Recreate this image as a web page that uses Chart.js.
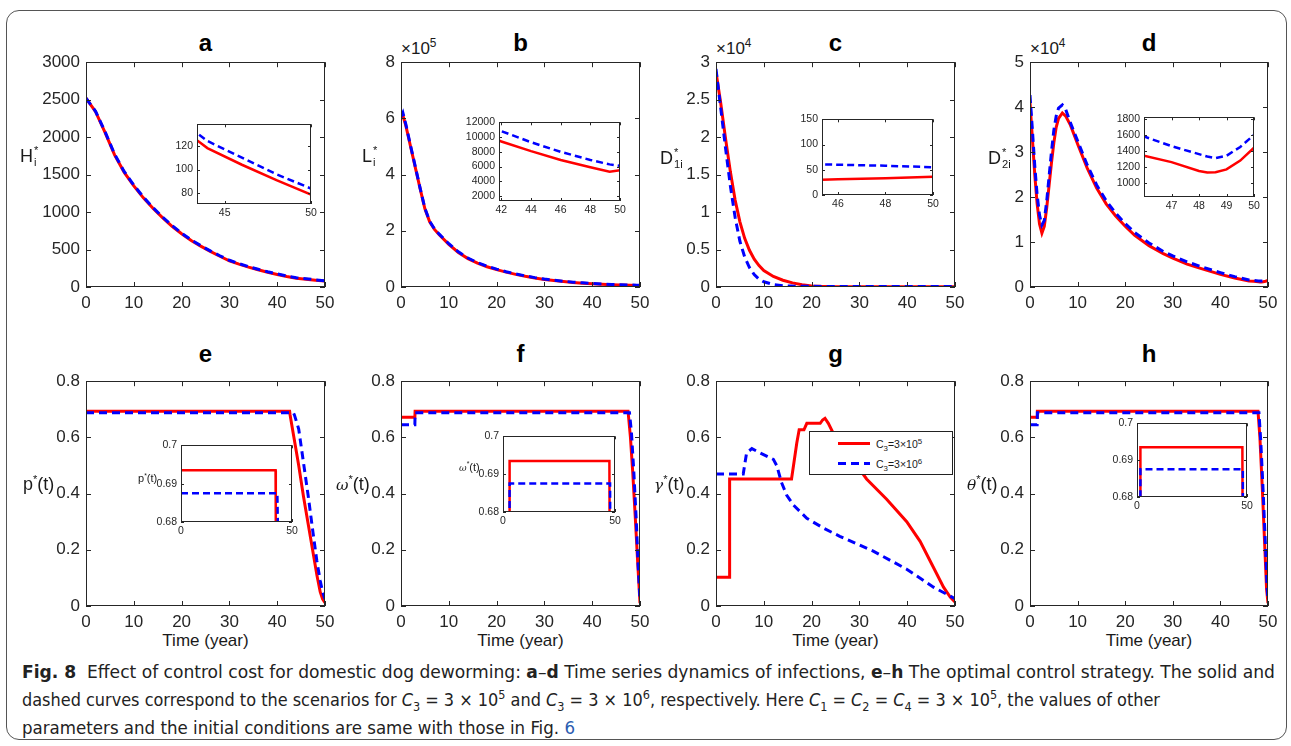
<!DOCTYPE html>
<html>
<head>
<meta charset="utf-8">
<script src="https://cdn.jsdelivr.net/npm/chart.js@4.4.1/dist/chart.umd.min.js"></script>
<style>
body { margin: 0; background: #fff; width: 1291px; height: 746px; position: relative; overflow: hidden; font-family: 'Liberation Sans', Arial, sans-serif; color: #1a1a1a; }
#frame { position: absolute; left: 6px; top: 10px; width: 1281px; height: 730px; border: 1px solid #555; border-radius: 13px; box-sizing: border-box; }
.box { position: absolute; }
.ttl { position: absolute; font-weight: bold; font-size: 24px; line-height: 24px; text-align: center; color: #000; }
.lab { position: absolute; font-size: 18px; line-height: 20px; transform: translateY(-50%); white-space: nowrap; color: #1a1a1a; z-index: 5; }
.lab i { font-family: 'DejaVu Serif', serif; font-size: 0.85em; }
.ss { display: inline-flex; flex-direction: column; font-size: 0.62em; line-height: 1.1em; vertical-align: 0.7em; margin-left: 1px; }
.lab sup { font-size: 0.62em; vertical-align: 0.6em; line-height: 0; }
.sm { font-size: 11px; line-height: 12px; }
.xt { position: absolute; font-size: 17px; line-height: 20px; text-align: center; }
.mult { position: absolute; font-size: 17px; line-height: 20px; white-space: nowrap; }
.mult sup { font-size: 0.7em; vertical-align: 0.55em; line-height: 0; }
#leg { position: absolute; left: 809px; top: 431px; width: 144px; height: 44px; border: 1px solid #222; background: #fff; box-sizing: border-box; z-index: 6; font-size: 10.5px; }
.lrow { position: absolute; left: 0; width: 100%; height: 14px; }
.ls { position: absolute; left: 28px; top: 5px; width: 32px; height: 3px; }
.lt { position: absolute; left: 66px; top: 0; line-height: 14px; white-space: nowrap; }
.lt sub, .lt sup { font-size: 0.75em; line-height: 0; }
.cap { position: absolute; left: 22px; font-family: 'Liberation Sans Narrow', 'DejaVu Sans Condensed', 'Liberation Sans', sans-serif; font-size: 18px; line-height: 28px; white-space: nowrap; color: #222; transform-origin: 0 50%; }
.cap sub, .cap sup { font-size: 0.7em; line-height: 0; }
</style>
</head>
<body>
<div id="frame"></div>

<script>
// ---------- data ----------
const xTicksMain = [0, 10, 20, 30, 40, 50];

// a: H_i*
const tH = [0, 2, 4, 6, 8, 10, 12, 14, 16, 18, 20, 22, 24, 26, 28, 30, 32, 34, 36, 38, 40, 42, 44, 46, 48, 50];
const hRed = [2520, 2340, 2060, 1760, 1530, 1350, 1190, 1050, 925, 810, 710, 620, 545, 475, 410, 350, 305, 265, 230, 196, 168, 140, 118, 104, 91, 79];
const hBlue = [2520, 2345, 2070, 1770, 1540, 1360, 1200, 1060, 935, 820, 718, 628, 552, 482, 417, 357, 311, 271, 236, 203, 175, 146, 124, 110, 96, 84];
const hTicks = [0, 500, 1000, 1500, 2000, 2500, 3000];

// b: L_i*
const tL = [0, 0.4, 1, 2, 3, 4, 5, 6, 7, 8, 10, 12, 14, 16, 18, 20, 22, 24, 26, 28, 30, 32, 34, 36, 38, 40, 42, 44, 46, 48, 49.3, 50];
const lRed = [600000, 610000, 575000, 500000, 425000, 350000, 278000, 232000, 205000, 186000, 152000, 123000, 101000, 85000, 72000, 62000, 53000, 45000, 38000, 32000, 27000, 23000, 19500, 16000, 13500, 11400, 9400, 8100, 6900, 5900, 5300, 5500];
const lBlue = [605000, 620000, 580000, 503000, 428000, 352000, 280000, 234000, 207000, 188000, 154000, 125000, 103000, 87000, 74000, 63500, 54500, 46500, 39500, 33300, 28200, 24000, 20500, 17300, 14700, 12600, 10800, 9300, 8000, 6900, 6300, 6100];
const lTicks = [0, 200000, 400000, 600000, 800000];

// c: D_1i*
const tD1 = [0, 1, 2, 3, 4, 5, 6, 7, 8, 9, 10, 12, 14, 16, 18, 20, 22, 25, 30, 35, 40, 45, 46, 48, 50];
const d1Red = [28700, 24500, 19800, 15400, 11600, 8700, 6500, 4900, 3700, 2850, 2200, 1400, 900, 550, 300, 150, 90, 50, 35, 31, 30, 30, 31, 33, 36];
const d1Blue = [29100, 23800, 18500, 13500, 9300, 6100, 4000, 2600, 1650, 1050, 700, 330, 180, 120, 100, 90, 80, 75, 70, 66, 63, 61, 60, 58, 55];
const d1Ticks = [0, 5000, 10000, 15000, 20000, 25000, 30000];

// d: D_2i*
const tD2 = [0, 0.5, 1, 1.5, 2, 2.5, 3, 3.5, 4, 4.5, 5, 5.5, 6, 6.8, 7.5, 8.5, 10, 12, 14, 16, 18, 20, 22, 25, 28, 30, 33, 36, 40, 43, 46, 47, 48, 48.3, 48.6, 49, 49.5, 50];
const d2Red = [41000, 33000, 25000, 18500, 14000, 12000, 13500, 17500, 22500, 27500, 32000, 35500, 37500, 38700, 38000, 36000, 31800, 26500, 22000, 18500, 15800, 13500, 11500, 9200, 7400, 6400, 5100, 4100, 2800, 2000, 1340, 1260, 1150, 1130, 1135, 1170, 1280, 1440];
const d2Blue = [42700, 35000, 27000, 20500, 16000, 13800, 14800, 19000, 24500, 30000, 34800, 38000, 39800, 40500, 39500, 36500, 32500, 27200, 22700, 19200, 16400, 14100, 12100, 9800, 7900, 6900, 5600, 4500, 3200, 2300, 1580, 1460, 1360, 1330, 1310, 1340, 1450, 1600];
const d2Ticks = [0, 10000, 20000, 30000, 40000, 50000];

// e: p*(t)
const tPRed = [0, 42.6, 42.7, 43.5, 44.5, 45.5, 46.5, 47.5, 48.3, 49, 49.5, 50];
const pRed = [0.6935, 0.6935, 0.68, 0.60, 0.50, 0.39, 0.29, 0.19, 0.11, 0.05, 0.025, 0.012];
const tPBlue = [0, 43.4, 43.6, 44.5, 45.5, 46.5, 47.5, 48.3, 49, 49.5, 50];
const pBlue = [0.6875, 0.6875, 0.68, 0.63, 0.51, 0.39, 0.26, 0.16, 0.09, 0.05, 0.025];

// f: omega*(t)
const tWRed = [0, 2.9, 2.95, 47.5, 48, 48.5, 49, 49.5, 50];
const wRed = [0.672, 0.672, 0.6935, 0.6935, 0.6, 0.47, 0.32, 0.16, 0.01];
const tWBlue = [0, 2.9, 2.95, 47.8, 48.2, 48.7, 49.2, 49.6, 50];
const wBlue = [0.645, 0.645, 0.6875, 0.6875, 0.62, 0.48, 0.31, 0.15, 0.02];

// g: gamma*(t)
const tGRed = [0, 2.8, 2.85, 15.8, 16.3, 16.9, 17.4, 18.4, 19, 21.8, 22.3, 22.8, 23.5, 24.5, 28, 31.5, 35.7, 39.9, 42.7, 45.5, 47.6, 49, 50];
const gRed = [0.102, 0.102, 0.452, 0.452, 0.51, 0.58, 0.627, 0.627, 0.65, 0.65, 0.662, 0.668, 0.65, 0.616, 0.535, 0.452, 0.38, 0.30, 0.23, 0.137, 0.067, 0.032, 0.014];
const tGBlue = [0, 5.7, 6.4, 7.5, 9.2, 12, 12.7, 13.7, 14.8, 16.2, 19, 22.5, 25.9, 32.9, 39.9, 45.5, 50];
const gBlue = [0.47, 0.47, 0.545, 0.56, 0.545, 0.522, 0.5, 0.44, 0.394, 0.359, 0.312, 0.277, 0.248, 0.195, 0.131, 0.067, 0.026];

// h: theta*(t)
const tTRed = [0, 1.5, 1.55, 47.9, 48.3, 48.8, 49.3, 49.7, 50];
const thRed = [0.672, 0.672, 0.6935, 0.6935, 0.6, 0.42, 0.22, 0.06, 0.01];
const tTBlue = [0, 1.5, 1.55, 48.1, 48.5, 49, 49.5, 49.8, 50];
const thBlue = [0.645, 0.645, 0.6875, 0.6875, 0.58, 0.40, 0.2, 0.07, 0.02];

const ctrlTicks = [0, 0.2, 0.4, 0.6, 0.8];

// inset ticks
const aInX = [45, 50], aInY = [80, 100, 120];
const bInX = [42, 44, 46, 48, 50], bInY = [2000, 4000, 6000, 8000, 10000, 12000];
const cInX = [46, 48, 50], cInY = [0, 50, 100, 150];
const dInX = [47, 48, 49, 50], dInY = [1000, 1200, 1400, 1600, 1800];
const ctrlInX = [0, 50], ctrlInY = [0.68, 0.69, 0.7];

// ---------- drawing ----------
const F = "'Liberation Sans', Arial, sans-serif";
const AX = '#262626';
const RED = '#ff0000';
const BLUE = '#0000ff';
const mainPad = { l: 60, t: 12, r: 16, b: 30 };
const insetPad = { l: 40, t: 8, r: 10, b: 20 };

const boxPlugin = {
  id: 'box',
  beforeDatasetsDraw(chart, args, opts) {
    if (!opts.bg) return;
    const a = chart.chartArea;
    chart.ctx.save();
    chart.ctx.fillStyle = '#fff';
    chart.ctx.fillRect(a.left, a.top, a.width, a.height);
    chart.ctx.restore();
  },
  afterDraw(chart, args, opts) {
    const { ctx, chartArea: a } = chart;
    const x = chart.scales.x, y = chart.scales.y;
    const len = opts.len;
    ctx.save();
    ctx.strokeStyle = AX;
    ctx.lineWidth = 1;
    ctx.beginPath();
    x.ticks.forEach(t => {
      const p = Math.round(x.getPixelForValue(t.value)) + 0.5;
      ctx.moveTo(p, a.bottom); ctx.lineTo(p, a.bottom - len);
      ctx.moveTo(p, a.top); ctx.lineTo(p, a.top + len);
    });
    y.ticks.forEach(t => {
      const p = Math.round(y.getPixelForValue(t.value)) + 0.5;
      ctx.moveTo(a.left, p); ctx.lineTo(a.left + len, p);
      ctx.moveTo(a.right, p); ctx.lineTo(a.right - len, p);
    });
    ctx.stroke();
    ctx.strokeRect(Math.round(a.left) + 0.5, Math.round(a.top) + 0.5, Math.round(a.width) - 1, Math.round(a.height) - 1);
    ctx.restore();
  }
};

function place(left, top, w, h, pad, z) {
  const d = document.createElement('div');
  d.className = 'box';
  d.style.cssText = `left:${left - pad.l}px;top:${top - pad.t}px;width:${w + pad.l + pad.r}px;height:${h + pad.t + pad.b}px;z-index:${z}`;
  const c = document.createElement('canvas');
  d.appendChild(c);
  document.body.appendChild(d);
  return c;
}

function axis(min, max, ticks, fmt, fs, pad, fit) {
  return {
    type: 'linear', min, max,
    afterBuildTicks: s => { s.ticks = ticks.map(v => ({ value: v })); },
    afterFit: fit,
    grid: { display: false, drawTicks: false },
    border: { display: false },
    ticks: { color: AX, font: { family: F, size: fs }, padding: pad, maxRotation: 0, autoSkip: false, callback: v => fmt(v) }
  };
}

const num = v => String(v);

function buildChart(o) {
  const pad = o.inset ? insetPad : mainPad;
  const canvas = place(o.box[0], o.box[1], o.box[2], o.box[3], pad, o.inset ? 3 : 1);
  const lw = o.inset ? 2.5 : 3;
  const dash = o.inset ? [7, 4] : [8, 5];
  const datasets = o.series.map(s => ({
    data: s.t.map((t, i) => ({ x: t, y: s.v[i] })),
    showLine: true,
    borderColor: s.color,
    borderWidth: lw,
    borderDash: s.dash ? dash : [],
    pointRadius: 0,
    tension: 0,
    order: s.dash ? 0 : 1
  }));
  const fs = o.inset ? 10.5 : 17;
  new Chart(canvas, {
    type: 'scatter',
    data: { datasets },
    options: {
      responsive: true, maintainAspectRatio: false, animation: false, events: [],
      layout: { padding: { left: 0, top: pad.t, right: pad.r, bottom: 0 } },
      plugins: { legend: { display: false }, tooltip: { enabled: false }, box: { len: o.inset ? 3 : 5, bg: !!o.inset } },
      scales: {
        x: axis(o.x[0], o.x[1], o.xTicks, o.xFmt || num, fs, o.inset ? 3 : 6, s => { s.height = pad.b; }),
        y: axis(o.y[0], o.y[1], o.yTicks, o.yFmt || num, fs, o.inset ? 4 : 6, s => { s.width = pad.l; })
      }
    },
    plugins: [boxPlugin]
  });
}

const pair = (t1, v1, t2, v2) => [
  { t: t1, v: v1, color: RED, dash: false },
  { t: t2, v: v2, color: BLUE, dash: true }
];

// main panels: box = [plotLeft, plotTop, plotWidth, plotHeight]
buildChart({ box: [86, 58, 239, 229], x: [0, 50], y: [0, 3000], xTicks: xTicksMain, yTicks: hTicks, series: pair(tH, hRed, tH, hBlue) });
buildChart({ box: [401, 58, 239, 229], x: [0, 50], y: [0, 800000], xTicks: xTicksMain, yTicks: lTicks, yFmt: v => String(v / 1e5), series: pair(tL, lRed, tL, lBlue) });
buildChart({ box: [716, 58, 239, 229], x: [0, 50], y: [0, 30000], xTicks: xTicksMain, yTicks: d1Ticks, yFmt: v => String(v / 1e4), series: pair(tD1, d1Red, tD1, d1Blue) });
buildChart({ box: [1030, 58, 238, 229], x: [0, 50], y: [0, 50000], xTicks: xTicksMain, yTicks: d2Ticks, yFmt: v => String(v / 1e4), series: pair(tD2, d2Red, tD2, d2Blue) });
buildChart({ box: [86, 377, 239, 229], x: [0, 50], y: [0, 0.8], xTicks: xTicksMain, yTicks: ctrlTicks, series: pair(tPRed, pRed, tPBlue, pBlue) });
buildChart({ box: [401, 377, 239, 229], x: [0, 50], y: [0, 0.8], xTicks: xTicksMain, yTicks: ctrlTicks, series: pair(tWRed, wRed, tWBlue, wBlue) });
buildChart({ box: [716, 377, 239, 229], x: [0, 50], y: [0, 0.8], xTicks: xTicksMain, yTicks: ctrlTicks, series: pair(tGRed, gRed, tGBlue, gBlue) });
buildChart({ box: [1030, 377, 238, 229], x: [0, 50], y: [0, 0.8], xTicks: xTicksMain, yTicks: ctrlTicks, series: pair(tTRed, thRed, tTBlue, thBlue) });

// insets
buildChart({ inset: true, box: [197, 122, 114, 82], x: [43.4, 50], y: [71, 138], xTicks: aInX, yTicks: aInY, series: pair(tH, hRed, tH, hBlue) });
buildChart({ inset: true, box: [499, 120, 121, 81], x: [41.84, 50], y: [1340, 12000], xTicks: bInX, yTicks: bInY, series: pair(tL, lRed, tL, lBlue) });
buildChart({ inset: true, box: [822, 117, 111, 78], x: [45.33, 50], y: [0, 150], xTicks: cInX, yTicks: cInY, series: pair(tD1, d1Red, tD1, d1Blue) });
buildChart({ inset: true, box: [1144, 115, 110, 82], x: [46, 50], y: [825, 1820], xTicks: dInX, yTicks: dInY, series: pair(tD2, d2Red, tD2, d2Blue) });
buildChart({ inset: true, box: [181, 443, 111, 79], x: [0, 50], y: [0.68, 0.7], xTicks: ctrlInX, yTicks: ctrlInY, series: pair(tPRed, pRed, tPBlue, pBlue) });
buildChart({ inset: true, box: [503, 434, 112, 78], x: [0, 50], y: [0.68, 0.7], xTicks: ctrlInX, yTicks: ctrlInY, series: pair(tWRed, wRed, tWBlue, wBlue) });
buildChart({ inset: true, box: [1137, 421, 110, 76], x: [0, 50], y: [0.68, 0.7], xTicks: ctrlInX, yTicks: ctrlInY, series: pair(tTRed, thRed, tTBlue, thBlue) });
</script>

<!-- panel titles -->
<div class="ttl" style="left:86px;top:31px;width:239px">a</div>
<div class="ttl" style="left:401px;top:31px;width:239px">b</div>
<div class="ttl" style="left:716px;top:31px;width:239px">c</div>
<div class="ttl" style="left:1030px;top:31px;width:238px">d</div>
<div class="ttl" style="left:86px;top:342px;width:239px">e</div>
<div class="ttl" style="left:401px;top:342px;width:239px">f</div>
<div class="ttl" style="left:716px;top:342px;width:239px">g</div>
<div class="ttl" style="left:1030px;top:342px;width:238px">h</div>

<!-- y labels -->
<div class="lab" style="left:20px;top:156px">H<span class="ss"><span>*</span><span>i</span></span></div>
<div class="lab" style="left:362px;top:156px">L<span class="ss"><span>*</span><span>i</span></span></div>
<div class="lab" style="left:660px;top:158px">D<span class="ss"><span>*</span><span>1i</span></span></div>
<div class="lab" style="left:988px;top:158px">D<span class="ss"><span>*</span><span>2i</span></span></div>
<div class="lab" style="left:23px;top:484px">p<sup>*</sup>(t)</div>
<div class="lab" style="left:336px;top:484px"><i>ω</i><sup>*</sup>(t)</div>
<div class="lab" style="left:654px;top:484px"><i>γ</i><sup>*</sup>(t)</div>
<div class="lab" style="left:967px;top:484px"><i>θ</i><sup>*</sup>(t)</div>
<div class="lab sm" style="left:138px;top:478px">p<sup>*</sup>(t)</div>
<div class="lab sm" style="left:459px;top:467px"><i>ω</i><sup>*</sup>(t)</div>

<!-- exponent labels -->
<div class="mult" style="left:401px;top:39px">×10<sup>5</sup></div>
<div class="mult" style="left:716px;top:39px">×10<sup>4</sup></div>
<div class="mult" style="left:1030px;top:39px">×10<sup>4</sup></div>

<!-- x labels -->
<div class="xt" style="left:86px;top:631px;width:239px">Time (year)</div>
<div class="xt" style="left:401px;top:631px;width:239px">Time (year)</div>
<div class="xt" style="left:716px;top:631px;width:239px">Time (year)</div>
<div class="xt" style="left:1030px;top:631px;width:238px">Time (year)</div>

<!-- legend panel g -->
<div id="leg">
  <div class="lrow" style="top:5px"><span class="ls" style="background:#ff0000"></span><span class="lt">C<sub>3</sub>=3×10<sup>5</sup></span></div>
  <div class="lrow" style="top:25px"><span class="ls" style="background:repeating-linear-gradient(90deg,#0000ff 0 8px,transparent 8px 13px)"></span><span class="lt">C<sub>3</sub>=3×10<sup>6</sup></span></div>
</div>

<!-- caption -->
<div class="cap" data-w="1253" style="top:658px"><b>Fig. 8</b>&nbsp; Effect of control cost for domestic dog deworming: <b>a</b>–<b>d</b> Time series dynamics of infections, <b>e</b>–<b>h</b> The optimal control strategy. The solid and</div>
<div class="cap" data-w="1138" style="top:686px">dashed curves correspond to the scenarios for <i>C</i><sub>3</sub> = 3 × 10<sup>5</sup> and <i>C</i><sub>3</sub> = 3 × 10<sup>6</sup>, respectively. Here <i>C</i><sub>1</sub> = <i>C</i><sub>2</sub> = <i>C</i><sub>4</sub> = 3 × 10<sup>5</sup>, the values of other</div>
<div class="cap" data-w="553" style="top:714px">parameters and the initial conditions are same with those in Fig. <span style="color:#2a5db0">6</span></div>

<script>
document.querySelectorAll('.cap').forEach(el => {
  const w = el.getBoundingClientRect().width;
  el.style.transform = `scaleX(${(+el.dataset.w / w).toFixed(4)})`;
});
</script>
</body>
</html>
